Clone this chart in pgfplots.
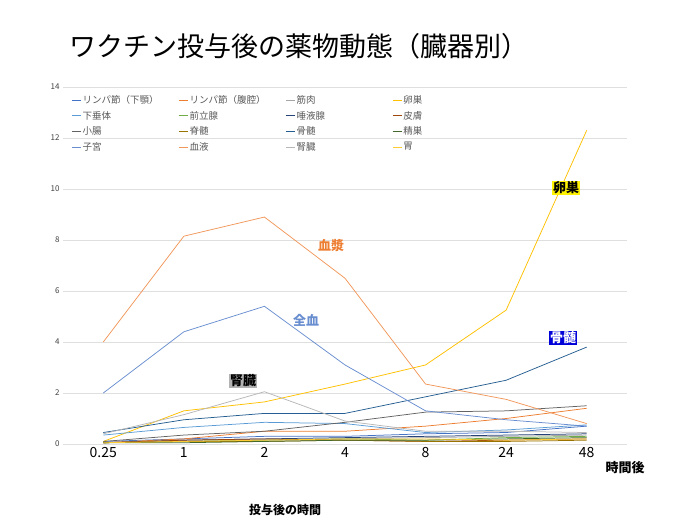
\documentclass[border=0pt]{standalone}
\usepackage{pgfplots}
\pgfplotsset{compat=1.18}
\usepackage{fontspec}
\setmainfont{Noto Sans CJK JP}
\definecolor{c1}{HTML}{4472C4}\definecolor{c2}{HTML}{ED7D31}\definecolor{c3}{HTML}{A5A5A5}\definecolor{c4}{HTML}{FFC000}
\definecolor{c5}{HTML}{5B9BD5}\definecolor{c6}{HTML}{70AD47}\definecolor{c7}{HTML}{264478}\definecolor{c8}{HTML}{9E480E}
\definecolor{c9}{HTML}{636363}\definecolor{c10}{HTML}{997300}\definecolor{c11}{HTML}{255E91}\definecolor{c12}{HTML}{43682B}
\definecolor{c13}{HTML}{698ED0}\definecolor{c14}{HTML}{F1975A}\definecolor{c15}{HTML}{B7B7B7}\definecolor{c16}{HTML}{FFCD33}
\begin{document}
\begin{tikzpicture}[x=1pt,y=1pt]
\path (0,0) rectangle (680,532);
\node[anchor=west,font=\fontsize{27}{30}\selectfont] at (66,486) {ワクチン投与後の薬物動態（臓器別）};
\begin{axis}[at={(63pt,88pt)},anchor=south west,scale only axis,width=564pt,height=357pt,
 xmin=-0.5,xmax=6.5,ymin=0,ymax=14,ytick={0,2,...,14},xtick={0,...,6},
 xticklabels={0.25,1,2,4,8,24,48},
 /pgf/number format/assume math mode=true,
 axis line style={draw=none},tick style={draw=none},
 ymajorgrids,grid style={gray!25},
 yticklabel style={font=\fontsize{8}{9}\selectfont,text=black!75},
 xticklabel style={font=\fontsize{14}{16}\selectfont},
 every axis plot/.append style={line width=0.75pt,mark=none},
 legend columns=4,
 legend style={at={(0.01,0.985)},anchor=north west,draw=none,fill=none,font=\fontsize{9.5}{11}\selectfont,text=black!65,row sep=4pt,
   nodes={text width=95pt,anchor=west,inner sep=1pt}},
 legend image code/.code={\draw[#1,line width=0.9pt] (0pt,0pt)--(9pt,0pt);},
]
\addplot[c1] coordinates {(0,0.1)(1,0.2)(2,0.3)(3,0.3)(4,0.4)(5,0.45)(6,0.7)};
\addplot[c2] coordinates {(0,0.05)(1,0.2)(2,0.5)(3,0.5)(4,0.7)(5,1.0)(6,1.4)};
\addplot[c3] coordinates {(0,0.05)(1,0.1)(2,0.15)(3,0.2)(4,0.25)(5,0.3)(6,0.35)};
\addplot[c4] coordinates {(0,0.1)(1,1.3)(2,1.65)(3,2.35)(4,3.1)(5,5.25)(6,12.3)};
\addplot[c5] coordinates {(0,0.35)(1,0.65)(2,0.85)(3,0.8)(4,0.45)(5,0.55)(6,0.75)};
\addplot[c6] coordinates {(0,0.05)(1,0.1)(2,0.15)(3,0.2)(4,0.15)(5,0.25)(6,0.3)};
\addplot[c7] coordinates {(0,0.05)(1,0.15)(2,0.2)(3,0.25)(4,0.3)(5,0.35)(6,0.4)};
\addplot[c8] coordinates {(0,0.05)(1,0.15)(2,0.2)(3,0.15)(4,0.1)(5,0.15)(6,0.2)};
\addplot[c9] coordinates {(0,0.1)(1,0.35)(2,0.5)(3,0.85)(4,1.25)(5,1.3)(6,1.5)};
\addplot[c10] coordinates {(0,0.05)(1,0.1)(2,0.1)(3,0.15)(4,0.1)(5,0.1)(6,0.15)};
\addplot[c11] coordinates {(0,0.45)(1,0.95)(2,1.2)(3,1.2)(4,1.85)(5,2.5)(6,3.8)};
\addplot[c12] coordinates {(0,0.05)(1,0.05)(2,0.1)(3,0.15)(4,0.15)(5,0.2)(6,0.25)};
\addplot[c13] coordinates {(0,2.0)(1,4.4)(2,5.4)(3,3.1)(4,1.3)(5,0.95)(6,0.7)};
\addplot[c14] coordinates {(0,4.0)(1,8.15)(2,8.9)(3,6.5)(4,2.35)(5,1.75)(6,0.8)};
\addplot[c15] coordinates {(0,0.4)(1,1.15)(2,2.05)(3,0.9)(4,0.5)(5,0.5)(6,0.45)};
\addplot[c16] coordinates {(0,0.05)(1,0.1)(2,0.15)(3,0.2)(4,0.2)(5,0.15)(6,0.2)};
\legend{リンパ節（下顎）,リンパ節（腹腔）,筋肉,卵巣,下垂体,前立腺,唾液腺,皮膚,小腸,脊髄,骨髄,精巣,子宮,血液,腎臓,胃}
\end{axis}
\node[font=\fontsize{13}{15}\selectfont\bfseries,fill=yellow,inner sep=1pt] at (566,344) {卵巣};
\node[font=\fontsize{13}{15}\selectfont\bfseries,text=c2] at (331,286) {血漿};
\node[font=\fontsize{13}{15}\selectfont\bfseries,text=c13] at (306,212) {全血};
\node[font=\fontsize{13}{15}\selectfont\bfseries,text=white,fill=blue!85!black,inner sep=1pt] at (563,194) {骨髄};
\node[font=\fontsize{13}{15}\selectfont\bfseries,fill=gray!60,inner sep=1pt] at (243,151) {腎臓};
\node[font=\fontsize{13}{15}\selectfont\bfseries] at (625,64) {時間後};
\node[font=\fontsize{12}{14}\selectfont\bfseries] at (285,22) {投与後の時間};
\end{tikzpicture}
\end{document}
